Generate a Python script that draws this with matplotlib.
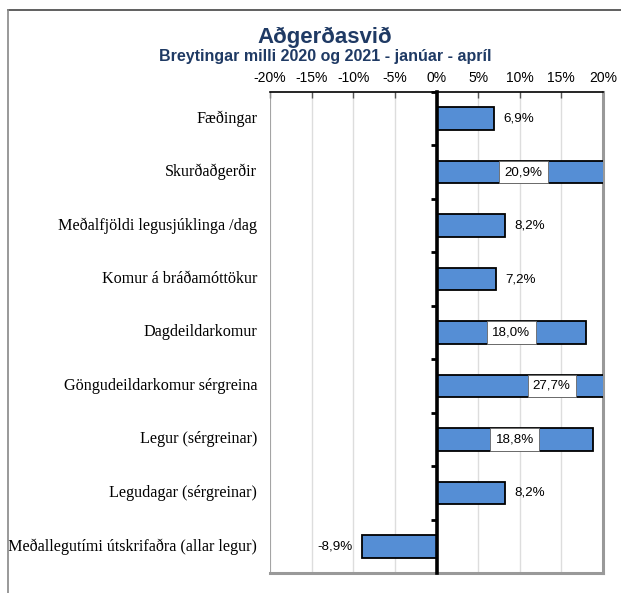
import numpy as np
import matplotlib
matplotlib.use('Agg')
from matplotlib import pyplot as plt
from matplotlib.lines import Line2D

categories = ['Fæðingar', 'Skurðaðgerðir', 'Meðalfjöldi legusjúklinga /dag',
              'Komur á bráðamóttökur', 'Dagdeildarkomur',
              'Göngudeildarkomur sérgreina', 'Legur (sérgreinar)',
              'Legudagar (sérgreinar)', 'Meðallegutími útskrifaðra (allar legur)']
values = [6.9, 20.9, 8.2, 7.2, 18.0, 27.7, 18.8, 8.2, -8.9]
xticks = [-20, -15, -10, -5, 0, 5, 10, 15, 20]

navy = '#1F3A64'
blue = '#558ED5'

fig = plt.figure(figsize=(6.21, 5.93), dpi=100)
ax = fig.add_axes([0.4348, 0.0337, 0.9710 - 0.4348, 0.8449 - 0.0337])

y = np.arange(len(categories))
ax.barh(y, values, height=0.42, color=blue, edgecolor='black', linewidth=1.3, zorder=3)
ax.set_xlim(-20, 20)
ax.set_ylim(len(categories) - 0.5, -0.5)

# grid + frame
for t in xticks:
    ax.axvline(t, color='#DDDDDD', lw=1, zorder=1)
ax.axvline(-20, color='#999999', lw=1.2, zorder=2)
ax.spines['right'].set_color('#999999')
ax.spines['right'].set_linewidth(2.2)
ax.spines['bottom'].set_color('#999999')
ax.spines['bottom'].set_linewidth(2.2)
ax.spines['top'].set_color('black')
ax.spines['top'].set_linewidth(1.2)
ax.spines['left'].set_position(('data', 0))
ax.spines['left'].set_linewidth(2.6)
ax.spines['left'].set_zorder(4)

ax.xaxis.tick_top()
ax.set_xticks(xticks)
ax.set_xticklabels([f'{t}%' for t in xticks], fontsize=10, family='Liberation Sans')
ax.tick_params(axis='x', direction='in', length=4, width=1, pad=5, color='#555555')

ax.set_yticks(np.arange(-0.5, len(categories) + 0.5, 1))
ax.set_yticklabels([])
ax.tick_params(axis='y', direction='out', length=4, width=2)

ytr = ax.get_yaxis_transform()
for i, c in enumerate(categories):
    ax.text(-0.039, i, c, transform=ytr, ha='right', va='center',
            fontsize=11.6, family='Liberation Serif')

for i, v in enumerate(values):
    s = f'{v:.1f}%'.replace('.', ',')
    if v >= 15:
        ax.text(v / 2, i, s, ha='center', va='center', fontsize=9.6, family='Liberation Sans',
                zorder=5, bbox=dict(facecolor='white', edgecolor='#666666', lw=0.6, pad=3.8))
    elif v > 0:
        ax.text(v + 1.1, i, s, ha='left', va='center', fontsize=9.6, family='Liberation Sans', zorder=5)
    else:
        ax.text(v - 1.2, i, s, ha='right', va='center', fontsize=9.6, family='Liberation Sans', zorder=5)

fig.text(325 / 621, 1 - 37 / 593, 'Aðgerðasvið', ha='center', va='center',
         fontsize=16, fontweight='bold', color=navy, family='Liberation Sans')
fig.text(325 / 621, 1 - 57 / 593, 'Breytingar milli 2020 og 2021 - janúar - apríl', ha='center',
         va='center', fontsize=11.5, fontweight='bold', color=navy, family='Liberation Sans')

# outer frame lines
fig.add_artist(Line2D([8 / 621, 1], [1 - 10 / 593, 1 - 10 / 593], color='#444444', lw=1.2))
fig.add_artist(Line2D([8 / 621, 8 / 621], [0, 1 - 10 / 593], color='#888888', lw=1.2))

fig.savefig('out.png', dpi=100)
